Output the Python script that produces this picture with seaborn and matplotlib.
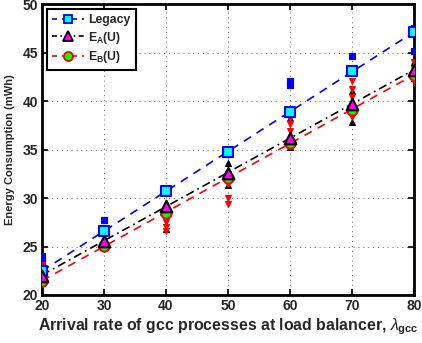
import numpy as np
import pandas as pd
import matplotlib
matplotlib.use("Agg")
import matplotlib.pyplot as plt
import seaborn as sns
from matplotlib.lines import Line2D

# arrival rates
rates = [20, 30, 40, 50, 60, 70, 80]

# mean energy consumption per scheme (mWh)
legacy_mean = [22.5, 26.6, 30.7, 34.7, 38.9, 43.1, 47.1]
ea_mean = [22.0, 25.6, 29.2, 32.6, 36.2, 39.7, 43.2]
eb_mean = [21.4, 25.1, 28.5, 32.1, 35.7, 39.1, 42.7]

# individual runs
legacy_run_x = [20, 20, 20, 20, 30, 30, 40, 50, 60, 60, 70, 80, 80]
legacy_run_y = [22.8, 23.3, 23.7, 24.0, 26.9, 27.7, 30.9, 34.5, 41.7, 42.1, 44.6, 45.2, 47.5]

ea_run_x = [20, 20, 30, 30, 40, 40, 50, 50, 60, 60, 70, 70, 80, 80]
ea_run_y = [21.2, 22.5, 25.0, 25.9, 26.8, 29.5, 31.3, 33.6, 35.3, 38.3, 37.8, 41.0, 42.4, 44.0]

eb_run_x = [20, 20, 20, 30, 30, 40, 40, 40, 40, 40, 50, 50, 50, 50,
            60, 60, 60, 70, 70, 70, 70, 80, 80, 80]
eb_run_y = [21.2, 22.8, 23.1, 24.7, 25.3, 26.6, 27.0, 27.5, 28.0, 28.6, 29.4, 30.0, 31.4, 32.5,
            36.9, 37.6, 38.3, 38.4, 40.4, 41.2, 42.1, 42.0, 43.3, 44.0]

sns.set_style("ticks")
plt.rcParams['font.family'] = ['Liberation Sans', 'DejaVu Sans']
plt.rcParams['mathtext.fontset'] = 'custom'
plt.rcParams['mathtext.rm'] = 'Liberation Sans'
plt.rcParams['mathtext.it'] = 'Liberation Sans:italic'
plt.rcParams['mathtext.bf'] = 'Liberation Sans:bold'

fig = plt.figure(figsize=(4.22, 3.43), dpi=100)
ax = fig.add_axes([0.0995, 0.140, 0.8815, 0.848])

# dashed linear fits
sns.regplot(x=rates, y=legacy_mean, ci=None, scatter=False, truncate=True, ax=ax,
            line_kws=dict(color="blue", ls=(0, (5, 4)), lw=1.2))
sns.regplot(x=rates, y=ea_mean, ci=None, scatter=False, truncate=True, ax=ax,
            line_kws=dict(color="black", ls=(0, (5, 2.5, 1, 2.5)), lw=1.2))
sns.regplot(x=rates, y=eb_mean, ci=None, scatter=False, truncate=True, ax=ax,
            line_kws=dict(color="red", ls=(0, (5, 4)), lw=1.2))

# individual runs
sns.scatterplot(x=legacy_run_x, y=legacy_run_y, marker="s", s=14, color="blue",
                edgecolor="blue", linewidth=0.8, ax=ax, zorder=4)
sns.scatterplot(x=ea_run_x, y=ea_run_y, marker="^", s=18, color="black",
                edgecolor="black", linewidth=0.8, ax=ax, zorder=4)
sns.scatterplot(x=eb_run_x, y=eb_run_y, marker="v", s=18, color="red",
                edgecolor="red", linewidth=0.8, ax=ax, zorder=4)

# means
sns.scatterplot(x=rates, y=legacy_mean, marker="s", s=45, color="#00ffff",
                edgecolor="blue", linewidth=1.5, ax=ax, zorder=5)
sns.scatterplot(x=rates, y=eb_mean, marker="o", s=55, color="#00ff00",
                edgecolor="red", linewidth=1.5, ax=ax, zorder=5)
sns.scatterplot(x=rates, y=ea_mean, marker="^", s=70, color="magenta",
                edgecolor="black", linewidth=1.5, ax=ax, zorder=6)

ax.set_xlim(20, 80)
ax.set_ylim(20, 50)
ax.set_xticks(rates)
ax.set_yticks([20, 25, 30, 35, 40, 45, 50])
ax.grid(True, ls=(0, (1, 4)), color="#666666", lw=0.7)
ax.tick_params(direction="in", top=True, right=True, length=4, width=1.5, labelsize=10, pad=3)
for lab in ax.get_xticklabels() + ax.get_yticklabels():
    lab.set_fontweight("bold")
for sp in ax.spines.values():
    sp.set_linewidth(2)
    sp.set_color("black")

ax.set_ylabel("Energy Consumption (mWh)", fontsize=8, fontweight="bold", labelpad=5)
ax.set_xlabel(r"Arrival rate of gcc processes at load balancer, $\lambda_{\mathbf{gcc}}$",
              fontsize=11.4, fontweight="bold", labelpad=2)

handles = [
    Line2D([], [], color="blue", ls=(0, (3, 3)), lw=1.2, marker="s", markersize=5.5,
           markerfacecolor="#00ffff", markeredgecolor="blue", markeredgewidth=1.3),
    Line2D([], [], color="black", ls=(0, (3, 2, 1, 2)), lw=1.2, marker="^", markersize=7.5,
           markerfacecolor="magenta", markeredgecolor="black", markeredgewidth=1.3),
    Line2D([], [], color="red", ls=(0, (3, 3)), lw=1.2, marker="o", markersize=6.5,
           markerfacecolor="#00ff00", markeredgecolor="red", markeredgewidth=1.3),
]
leg = ax.legend(handles, ["Legacy", r"E$_\mathbf{A}$(U)", r"E$_\mathbf{B}$(U)"],
                loc="upper left", frameon=True, fancybox=False,
                borderaxespad=0.4, handlelength=2.6, handletextpad=0.4, labelspacing=0.3,
                borderpad=0.4, prop=dict(weight="bold", size=8.8))
leg.get_frame().set_edgecolor("black")
leg.get_frame().set_linewidth(1.5)
leg.get_frame().set_alpha(1)

fig.savefig("out.png", dpi=100)
